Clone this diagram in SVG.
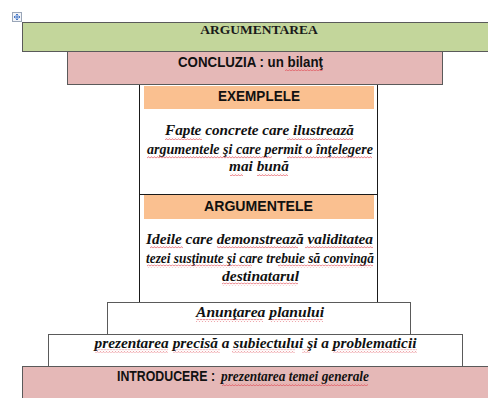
<svg xmlns="http://www.w3.org/2000/svg" width="488" height="398" viewBox="0 0 488 398">
  <defs>
    <!-- spell-check style wavy underline -->
    <pattern id="wavy" patternUnits="userSpaceOnUse" width="3" height="3">
      <path d="M0 2.3 L1.5 0.6 L3 2.3" fill="none" stroke="#e0404a" stroke-width="0.7"/>
    </pattern>
  </defs>
  <style>
    .box { stroke: #5a5a5a; stroke-width: 1; }
    .green { fill: #c3d69b; }
    .pink { fill: #e5b8b7; }
    .orange { fill: #fac090; }
    .white { fill: #ffffff; }
    .rule { stroke: #1a1a1a; stroke-width: 1; fill: none; }
    .head { font-family: "Liberation Sans", Arial, sans-serif; font-weight: bold; font-size: 14.5px; fill: #111; }
    .title { font-family: "Liberation Serif", "Times New Roman", serif; font-weight: bold; font-size: 13.5px; fill: #1a1a1a; text-anchor: middle; }
    .body { font-family: "Liberation Serif", "Times New Roman", serif; font-weight: bold; font-style: italic; font-size: 14.5px; fill: #111; }
    .sq { fill: url(#wavy); }
  </style>

  <!-- table move handle -->
  <g id="handle">
    <rect x="12.5" y="12.5" width="9" height="9" fill="#f2f4f8" stroke="#9aa6b8" stroke-width="1"/>
    <path d="M17 14 V20 M14 17 H20 M17 14 l-1.2 1.2 M17 14 l1.2 1.2 M17 20 l-1.2 -1.2 M17 20 l1.2 -1.2 M14 17 l1.2 -1.2 M14 17 l1.2 1.2 M20 17 l-1.2 -1.2 M20 17 l-1.2 1.2" stroke="#3b6fc4" stroke-width="0.9" fill="none"/>
  </g>

  <!-- top band -->
  <g id="argumentarea">
    <rect class="box green" x="22.5" y="22.5" width="470" height="29"/>
    <text class="title" x="259" y="34">ARGUMENTAREA</text>
  </g>

  <g id="concluzia">
    <rect class="box pink" x="67.5" y="51.5" width="375" height="33"/>
    <text class="head" x="178" y="67" textLength="145" lengthAdjust="spacingAndGlyphs">CONCLUZIA : un bilanţ</text>
    <rect class="sq" x="285" y="68" width="38" height="3"/>
  </g>

  <!-- central column -->
  <g id="column">
    <line class="rule" x1="139.5" y1="85" x2="139.5" y2="303"/>
    <line class="rule" x1="377.5" y1="85" x2="377.5" y2="303"/>
    <line class="rule" x1="139.5" y1="194.5" x2="377.5" y2="194.5"/>
  </g>

  <g id="exemplele">
    <rect class="orange" x="144" y="86" width="230" height="23"/>
    <text class="head" x="218" y="101" textLength="82" lengthAdjust="spacingAndGlyphs">EXEMPLELE</text>
    <text class="body" x="165" y="135" textLength="189" lengthAdjust="spacingAndGlyphs">Fapte concrete care ilustrează</text>
    <text class="body" x="147" y="154" textLength="226" lengthAdjust="spacingAndGlyphs">argumentele şi care permit o înţelegere</text>
    <text class="body" x="229" y="171" textLength="60" lengthAdjust="spacingAndGlyphs">mai bună</text>
    <rect class="sq" x="165" y="137" width="37" height="3"/>
    <rect class="sq" x="287" y="137" width="66" height="3"/>
    <rect class="sq" x="147" y="156" width="125" height="3"/>
    <rect class="sq" x="287" y="156" width="85" height="3"/>
    <rect class="sq" x="230" y="173" width="13" height="3"/>
    <rect class="sq" x="257" y="173" width="31" height="3"/>
  </g>

  <g id="argumentele">
    <rect class="orange" x="144" y="195" width="230" height="24"/>
    <text class="head" x="204" y="211" textLength="109" lengthAdjust="spacingAndGlyphs">ARGUMENTELE</text>
    <text class="body" x="146" y="243.5" textLength="227" lengthAdjust="spacingAndGlyphs">Ideile care demonstrează validitatea</text>
    <text class="body" x="146" y="262.5" textLength="228" lengthAdjust="spacingAndGlyphs">tezei susţinute şi care trebuie să convingă</text>
    <text class="body" x="222" y="280.5" textLength="77" lengthAdjust="spacingAndGlyphs">destinatarul</text>
    <rect class="sq" x="150" y="245.5" width="33" height="3"/>
    <rect class="sq" x="217" y="245.5" width="81" height="3"/>
    <rect class="sq" x="305" y="245.5" width="68" height="3"/>
    <rect class="sq" x="147" y="264.5" width="105" height="3"/>
    <rect class="sq" x="278" y="264.5" width="95" height="3"/>
    <rect class="sq" x="222" y="282.5" width="76" height="3"/>
  </g>

  <!-- base steps -->
  <g id="anuntarea">
    <rect class="box white" x="107.5" y="302.5" width="303" height="32"/>
    <text class="body" x="196" y="317" textLength="128" lengthAdjust="spacingAndGlyphs">Anunţarea planului</text>
    <rect class="sq" x="196" y="319" width="67" height="3"/>
    <rect class="sq" x="270" y="319" width="53" height="3"/>
  </g>

  <g id="prezentarea">
    <rect class="box white" x="48.5" y="334.5" width="414" height="32"/>
    <text class="body" x="94.5" y="347.5" textLength="322" lengthAdjust="spacingAndGlyphs">prezentarea precisă a subiectului şi a problematicii</text>
    <rect class="sq" x="95" y="349.5" width="73" height="3"/>
    <rect class="sq" x="173" y="349.5" width="47" height="3"/>
    <rect class="sq" x="232" y="349.5" width="63" height="3"/>
    <rect class="sq" x="302" y="349.5" width="8" height="3"/>
    <rect class="sq" x="333" y="349.5" width="84" height="3"/>
  </g>

  <g id="introducere">
    <rect class="box pink" x="22.5" y="366.5" width="470" height="40"/>
    <text class="head" x="117" y="381" textLength="98" lengthAdjust="spacingAndGlyphs">INTRODUCERE :</text>
    <text class="body" x="221" y="381" textLength="148" lengthAdjust="spacingAndGlyphs">prezentarea temei generale</text>
    <rect class="sq" x="222" y="383" width="146" height="3"/>
  </g>
</svg>
